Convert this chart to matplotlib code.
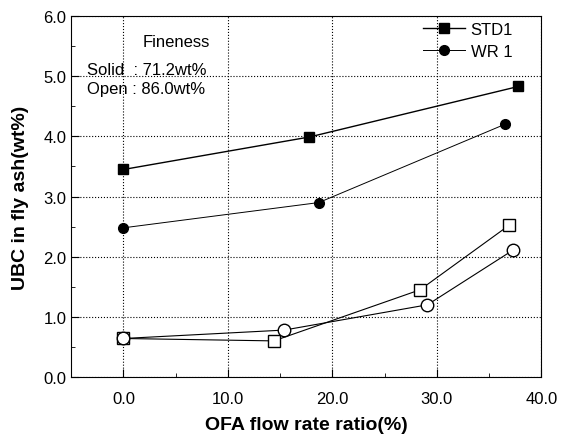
import numpy as np
import matplotlib
matplotlib.use("Agg")
import matplotlib.pyplot as plt
from matplotlib.ticker import MultipleLocator, FormatStrFormatter

plt.rcParams['font.family'] = ['Liberation Sans', 'DejaVu Sans']

# data
std1_x = [0.0, 17.8, 37.8]
std1_y = [3.45, 3.99, 4.83]
wr1_x = [0.0, 18.7, 36.5]
wr1_y = [2.48, 2.90, 4.20]
std1_open_x = [0.0, 14.4, 28.4, 36.9]
std1_open_y = [0.64, 0.60, 1.45, 2.52]
wr1_open_x = [0.0, 15.4, 29.1, 37.3]
wr1_open_y = [0.64, 0.78, 1.20, 2.11]

fig = plt.figure(figsize=(5.65, 4.39), dpi=100)
ax = fig.add_axes([0.126, 0.139, 0.832, 0.822])

ax.plot(std1_x, std1_y, '-s', color='black', lw=1.0, ms=7, label='STD1')
ax.plot(wr1_x, wr1_y, '-o', color='black', lw=0.7, ms=7, label='WR 1')
ax.plot(std1_open_x, std1_open_y, '-s', color='black', lw=0.8, ms=8,
        mfc='white', mew=1.0)
ax.plot(wr1_open_x, wr1_open_y, '-o', color='black', lw=0.8, ms=9,
        mfc='white', mew=1.0)

ax.set_xlim(-5, 40)
ax.set_ylim(0, 6)
ax.xaxis.set_major_locator(MultipleLocator(10))
ax.xaxis.set_minor_locator(MultipleLocator(5))
ax.yaxis.set_major_locator(MultipleLocator(1))
ax.yaxis.set_minor_locator(MultipleLocator(0.5))
ax.xaxis.set_major_formatter(FormatStrFormatter('%.1f'))
ax.yaxis.set_major_formatter(FormatStrFormatter('%.1f'))
ax.tick_params(which='both', direction='in', labelsize=12, color='black')
ax.tick_params(which='major', length=6)
ax.tick_params(which='minor', length=3)
ax.tick_params(axis='x', pad=10)
ax.grid(True, which='major', linestyle=':', color='black', lw=0.8)

ax.set_xlabel('OFA flow rate ratio(%)', fontsize=14, fontweight='bold', labelpad=7)
ax.set_ylabel('UBC in fly ash(wt%)', fontsize=14, fontweight='bold', labelpad=10)

ax.legend(loc='upper right', bbox_to_anchor=(0.94, 0.985), frameon=False,
          fontsize=12, handlelength=2.5, handletextpad=0.35,
          borderaxespad=0.0, borderpad=0.0, labelspacing=0.45)

ax.text(1.8, 5.58, 'Fineness', fontsize=12, ha='left', va='center')
ax.text(-3.45, 4.95, 'Solid  : 71.2wt%\nOpen : 86.0wt%', fontsize=12,
        ha='left', va='center', linespacing=1.35)

fig.savefig('out.png', dpi=100)
